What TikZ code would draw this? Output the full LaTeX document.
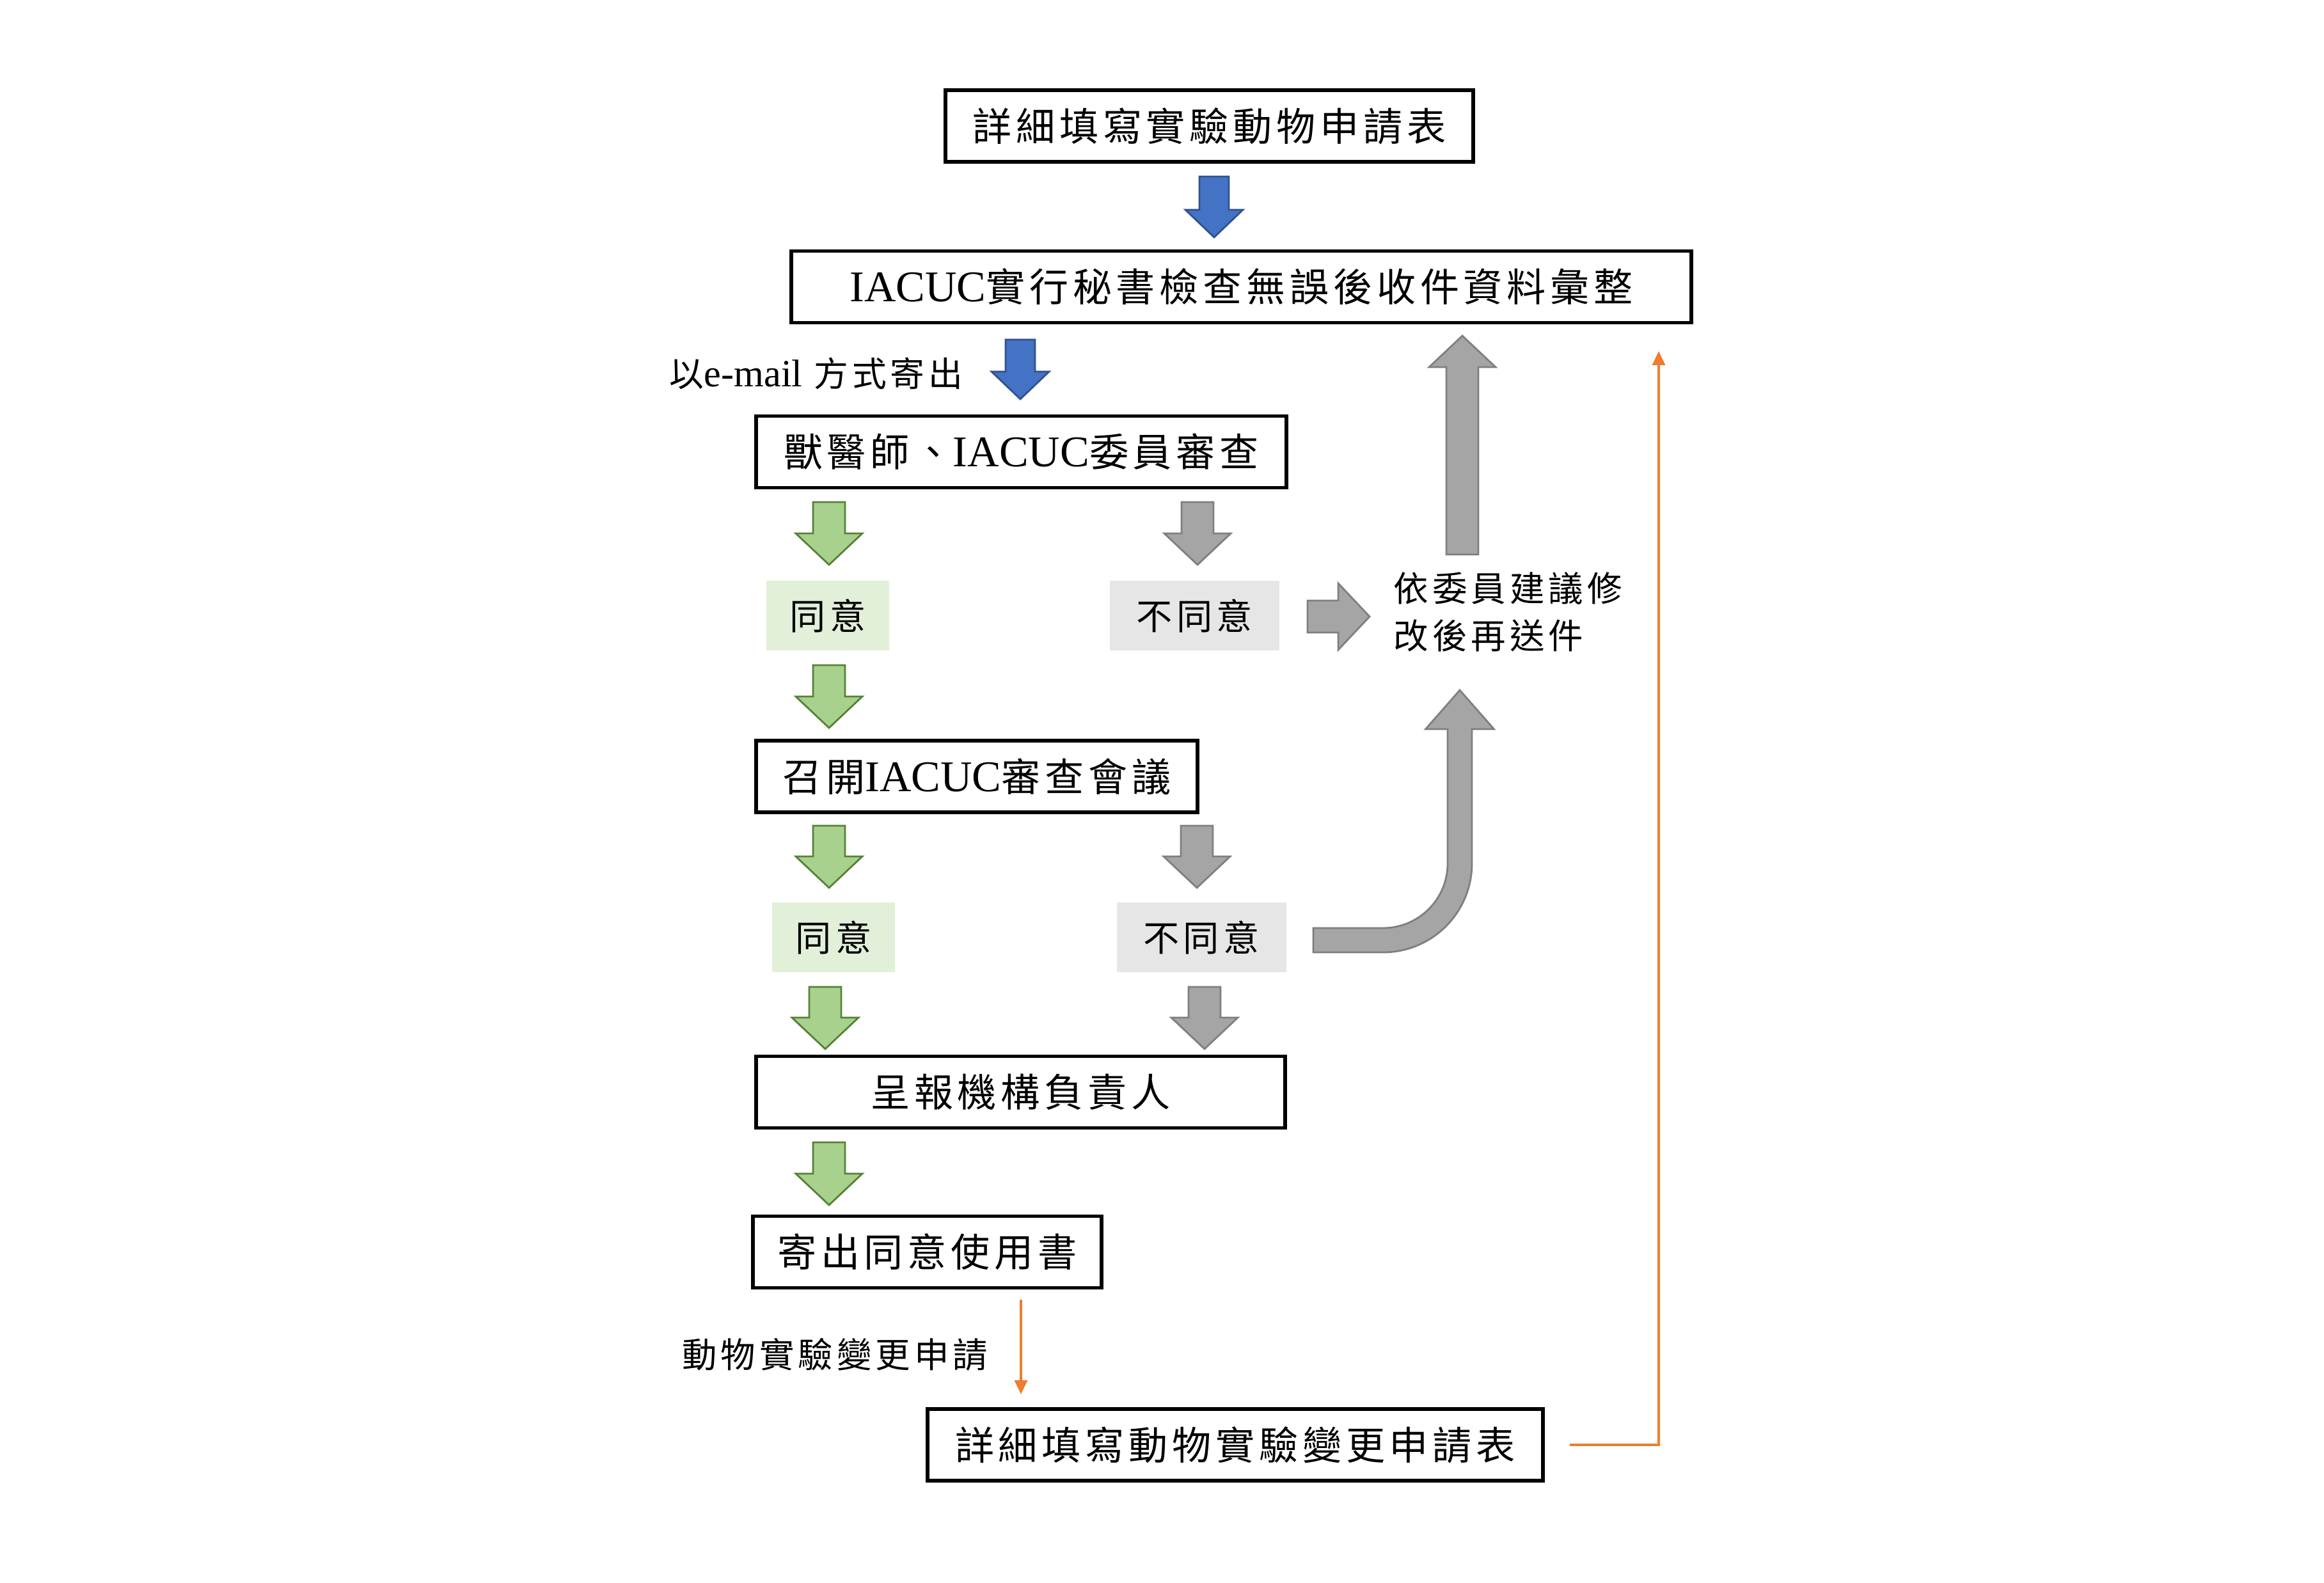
\documentclass[tikz,border=0pt]{standalone}
\usepackage{fontspec}
\setmainfont{Noto Sans CJK TC}[LetterSpace=11]
\newfontfamily\latfont[Scale=1.12]{Liberation Serif}
\newcommand\lat[1]{{\latfont #1}}
\usepackage{tikz}
\usetikzlibrary{arrows.meta}
\definecolor{blkblue}{HTML}{4472C4}
\definecolor{blkblueline}{HTML}{2F528F}
\definecolor{blkgreen}{HTML}{A9D18E}
\definecolor{blkgreenline}{HTML}{548235}
\definecolor{blkgray}{HTML}{A5A5A5}
\definecolor{blkgrayline}{HTML}{7F7F7F}
\definecolor{agreefill}{HTML}{E2F0D9}
\definecolor{rejectfill}{HTML}{E7E6E6}
\definecolor{lineorange}{HTML}{ED7D31}
\tikzset{
	blk shaft/.store in=\ashaft, blk head/.store in=\ahead, blk tip/.store in=\atip,
	blk shaft=0.25, blk head=0.52, blk tip=0.49,
	flowbox/.style={draw, line width=1.5pt, minimum height=1.12cm, inner sep=0pt, font=\fontsize{17.4}{20}\selectfont},
	agreebox/.style={fill=agreefill, minimum width=1.92cm, minimum height=1.09cm, inner sep=0pt, font=\fontsize{16}{18}\selectfont},
	rejectbox/.style={agreebox, fill=rejectfill, minimum width=2.65cm},
	notetext/.style={inner sep=0pt, font=\fontsize{15.5}{21}\selectfont},
	blueblk/.style={fill=blkblue, draw=blkblueline, line width=0.8pt, blk shaft=0.23, blk head=0.45, blk tip=0.43},
	greenblk/.style={fill=blkgreen, draw=blkgreenline, line width=0.8pt},
	grayblk/.style={fill=blkgray, draw=blkgrayline, line width=0.8pt},
	changeline/.style={draw=lineorange, line width=1pt, -{Triangle[length=0.22cm,width=0.2cm]}}
}
\def\blockarrow[#1](#2)#3{\draw[shift={(#2)},#1] (0,\ashaft) -- ({#3-\atip},\ashaft) -- ({#3-\atip},\ahead) -- (#3,0) -- ({#3-\atip},-\ahead) -- ({#3-\atip},-\ashaft) -- (0,-\ashaft) -- cycle;}

\begin{document}
\begin{tikzpicture}
			%%%%% START %%%%%
			\useasboundingbox (0,0) rectangle (36.33,-24.75);
			
			\node[flowbox, minimum width=8.25cm] (form) at (18.905,-1.97) {詳細填寫實驗動物申請表};
			\node[flowbox, minimum width=14.07cm] (check) at (19.405,-4.485) {\lat{IACUC}實行秘書檢查無誤後收件資料彙整};
			\node[flowbox, minimum width=8.29cm] (review) at (15.965,-7.065) {獸醫師、\lat{IACUC}委員審查};
			\node[flowbox, minimum width=6.9cm] (meeting) at (15.27,-12.14) {召開\lat{IACUC}審查會議};
			\node[flowbox, minimum width=8.27cm] (report) at (15.955,-17.075) {呈報機構負責人};
			\node[flowbox, minimum width=5.45cm] (permit) at (14.495,-19.575) {寄出同意使用書};
			\node[flowbox, minimum width=9.62cm] (change) at (19.31,-22.59) {詳細填寫動物實驗變更申請表};
			
			\node[agreebox] (agree1) at (12.94,-9.625) {同意};
			\node[rejectbox] (reject1) at (18.675,-9.625) {不同意};
			\node[agreebox] (agree2) at (13.03,-14.655) {同意};
			\node[rejectbox] (reject2) at (18.78,-14.655) {不同意};
			
			\node[notetext, anchor=west, align=left] (revise) at (21.78,-9.57) {依委員建議修\\改後再送件};
			\node[notetext, anchor=east, font=\fontsize{15.3}{18}\selectfont] (email) at (15.06,-5.84) {以\lat{e-mail} 方式寄出};
			\node[notetext, anchor=east] (chglabel) at (15.45,-21.18) {動物實驗變更申請};
			
			\blockarrow[blueblk,rotate=-90](18.98,-2.76){0.95}
			\blockarrow[blueblk,rotate=-90](15.95,-5.31){0.93}
			
			\blockarrow[greenblk,rotate=-90](12.96,-7.85){0.98}
			\blockarrow[grayblk,rotate=-90](18.72,-7.85){0.98}
			\blockarrow[greenblk,rotate=-90](12.96,-10.40){0.98}
			\blockarrow[greenblk,rotate=-90](12.96,-12.91){0.97}
			\blockarrow[grayblk,rotate=-90](18.71,-12.91){0.97}
			\blockarrow[greenblk,rotate=-90](12.90,-15.43){0.97}
			\blockarrow[grayblk,rotate=-90](18.83,-15.43){0.97}
			\blockarrow[greenblk,rotate=-90](12.96,-17.86){0.98}
			
			\blockarrow[grayblk](20.44,-9.64){0.97}
			\blockarrow[grayblk,rotate=90](22.86,-8.67){3.42}
			\draw[grayblk] (20.53,-14.89) -- (21.62,-14.89) arc (-90:0:1.39) -- (23.01,-11.40) -- (23.355,-11.40) -- (22.82,-10.79) -- (22.285,-11.40) -- (22.63,-11.40) -- (22.63,-13.50) arc (0:-90:1.01) -- (20.53,-14.51) -- cycle;
			
			\coordinate (backtip) at (25.93,-5.49);
			\draw[changeline] ([xshift=3.9mm]change.east) -| (backtip);
			\coordinate (chgstart) at (15.96,-20.32);
			\coordinate (chgtip) at (15.96,-21.80);
			\draw[changeline] (chgstart) -- (chgtip);
			
			%%%%% END %%%%%
\end{tikzpicture}
\end{document}
